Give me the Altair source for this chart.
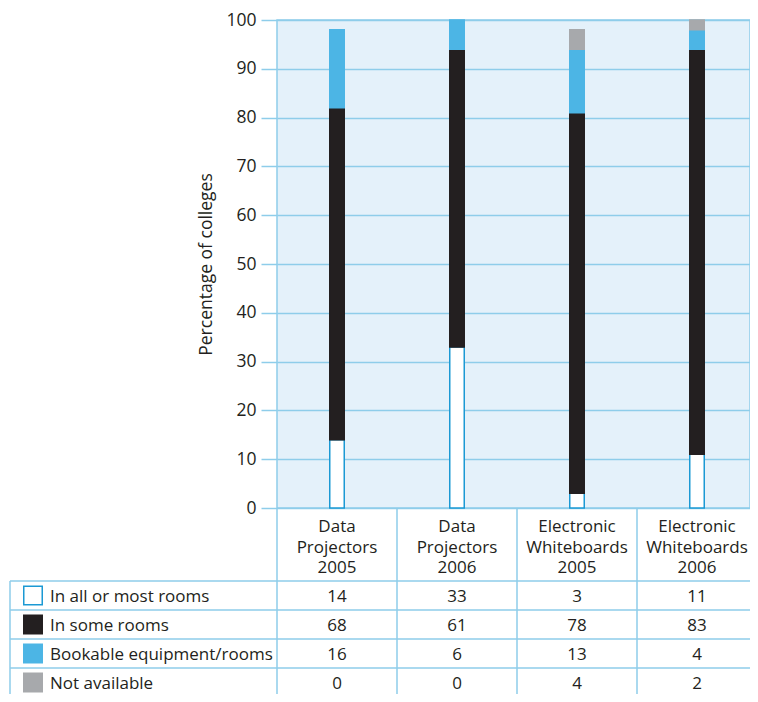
import altair as alt
import pandas as pd

categories = ["Data Projectors 2005", "Data Projectors 2006",
              "Electronic Whiteboards 2005", "Electronic Whiteboards 2006"]
header_labels = ["Data\nProjectors\n2005", "Data\nProjectors\n2006",
                 "Electronic\nWhiteboards\n2005", "Electronic\nWhiteboards\n2006"]
series = ["In all or most rooms", "In some rooms", "Bookable equipment/rooms", "Not available"]
all_or_most = [14, 33, 3, 11]
some_rooms = [68, 61, 78, 83]
bookable = [16, 6, 13, 4]
not_available = [0, 0, 4, 2]
y_ticks = [0, 10, 20, 30, 40, 50, 60, 70, 80, 90, 100]

fill_colors = ["#ffffff", "#231f20", "#4cb5e5", "#a7a9ac"]
stroke_colors = ["#1b99d4", "#231f20", "#4cb5e5", "#a7a9ac"]
line_color = "#8ecdea"
text_color = "#231f20"
FONT = "Open Sans"
FS = 17.5
TFS = 17

rows = []
for si, (s, vals) in enumerate(zip(series, [all_or_most, some_rooms, bookable, not_available])):
    for c, v in zip(categories, vals):
        rows.append({"category": c, "series": s, "value": v, "idx": si})
df = pd.DataFrame(rows)
hdr = pd.DataFrame({"category": categories, "label": header_labels})
ser_df = pd.DataFrame({"series": series, "idx": list(range(len(series)))})
cat_df = pd.DataFrame({"category": categories})

x_scale = alt.Scale(domain=categories, range=[0, 480], paddingInner=0, paddingOuter=0)
row_scale = alt.Scale(type="band", domain=series, range=[561, 677], paddingInner=0, paddingOuter=0)
fill_scale = alt.Scale(domain=series, range=fill_colors)
stroke_scale = alt.Scale(domain=series, range=stroke_colors)

X = alt.X("category:N", scale=x_scale, axis=None, sort=categories)

bars = alt.Chart(df).transform_filter("datum.value > 0").mark_bar(size=14.5, strokeWidth=1.5).encode(
    x=X,
    y=alt.Y("value:Q", stack="zero", scale=alt.Scale(domain=[0, 100], nice=False),
            axis=alt.Axis(values=y_ticks, title="Percentage of colleges", grid=True,
                          gridColor=line_color, gridWidth=1.5, tickColor=line_color,
                          tickWidth=1.5, tickSize=16, domain=False, labelFont=FONT,
                          labelFontSize=FS, labelColor=text_color, labelPadding=5,
                          titleFont=FONT, titleFontSize=FS, titleFontWeight="normal",
                          titleColor=text_color, titlePadding=10)),
    fill=alt.Fill("series:N", scale=fill_scale, legend=None),
    stroke=alt.Stroke("series:N", scale=stroke_scale, legend=None),
    order=alt.Order("idx:Q"),
)

vrules = alt.Chart(cat_df).mark_rule(color=line_color, strokeWidth=1.5).encode(
    x=alt.X("category:N", scale=x_scale, axis=None, sort=categories, bandPosition=0),
    y=alt.value(488), y2=alt.value(690),
)
left_border = alt.Chart(cat_df.head(1)).mark_rule(color=line_color, strokeWidth=1.5).encode(
    x=alt.value(-267), y=alt.value(561), y2=alt.value(690),
)
hrules = alt.Chart(ser_df).mark_rule(color=line_color, strokeWidth=1.5).encode(
    y=alt.Y("series:N", scale=row_scale, axis=None, bandPosition=0),
    x=alt.value(-267), x2=alt.value(481),
)

headers = alt.Chart(hdr).mark_text(font=FONT, fontSize=TFS, color=text_color, lineBreak="\n",
                                   baseline="alphabetic", align="center", lineHeight=20.5).encode(
    x=X, y=alt.value(512), text="label:N",
)

cells = alt.Chart(df).mark_text(font=FONT, fontSize=TFS, color=text_color, baseline="alphabetic",
                                align="center", dy=6.2).encode(
    x=X,
    y=alt.Y("series:N", scale=row_scale, axis=None),
    text="value:Q",
)

squares = alt.Chart(ser_df).mark_point(shape="square", filled=True, size=342, opacity=1,
                                       strokeWidth=1.5).encode(
    x=alt.value(-244),
    y=alt.Y("series:N", scale=row_scale, axis=None),
    fill=alt.Fill("series:N", scale=fill_scale, legend=None),
    stroke=alt.Stroke("series:N", scale=stroke_scale, legend=None),
)

labels = alt.Chart(ser_df).mark_text(font=FONT, fontSize=TFS, color=text_color, baseline="alphabetic",
                                     align="left", dy=6.2).encode(
    x=alt.value(-227),
    y=alt.Y("series:N", scale=row_scale, axis=None),
    text="series:N",
)

chart = alt.layer(bars, vrules, left_border, hrules, headers, cells, squares, labels).resolve_scale(
    y="independent"
).properties(
    width=473, height=488,
    autosize=alt.AutoSizeParams(type="none"),
    padding={"left": 269, "top": 12, "right": 0, "bottom": 186},
    background="#ffffff",
).configure_view(
    fill="#e4f1fa", stroke=line_color, strokeWidth=1.5,
)

chart.save("out.html", embed_options={"renderer": "svg", "actions": False})
